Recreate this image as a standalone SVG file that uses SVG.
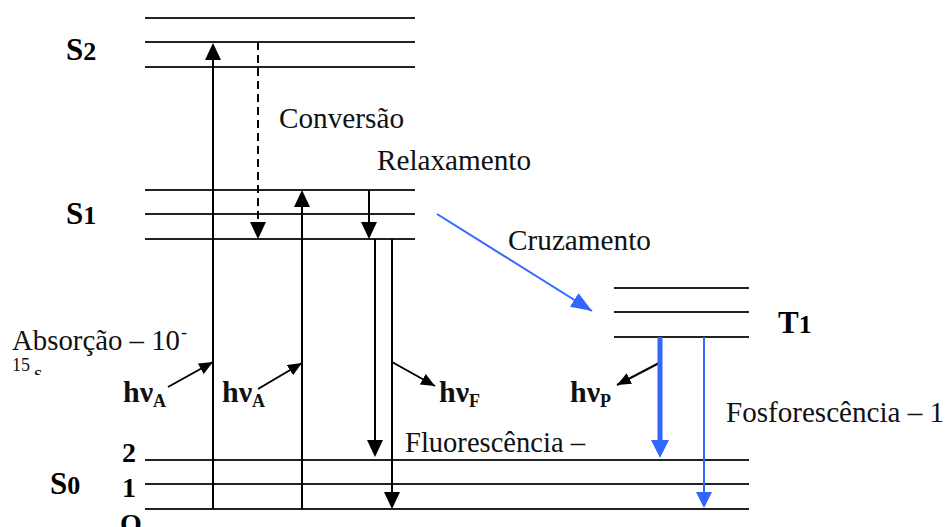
<svg xmlns="http://www.w3.org/2000/svg" width="946" height="527" viewBox="0 0 946 527">
<style>
.lvl{stroke:#222;stroke-width:2;fill:none}
.arr{stroke:#000;stroke-width:2;fill:none}
.lbl{font-family:"Liberation Serif","Times New Roman",serif;font-size:29px;fill:#111}
.st{font-family:"Liberation Serif","Times New Roman",serif;font-weight:bold;font-size:31px;fill:#000}
.num{font-family:"Liberation Serif","Times New Roman",serif;font-weight:bold;font-size:28px;fill:#000}
.hv{font-family:"Liberation Serif","Times New Roman",serif;font-weight:bold;font-size:30px;fill:#111}
.sub{font-size:18px}
.small{font-family:"Liberation Serif","Times New Roman",serif;font-size:18px;fill:#111}
</style>
<defs>
<marker id="av" markerUnits="userSpaceOnUse" markerWidth="17" markerHeight="16" refX="0" refY="8" orient="auto" viewBox="0 0 17 16"><path d="M0,0 L17,8 L0,16 Z" fill="#000"/></marker>
<marker id="ad" markerUnits="userSpaceOnUse" markerWidth="14" markerHeight="12" refX="14" refY="6" orient="auto" viewBox="0 0 14 12"><path d="M0,0 L14,6 L0,12 Z" fill="#000"/></marker>
<marker id="abk" markerUnits="userSpaceOnUse" markerWidth="18" markerHeight="18" refX="0" refY="9" orient="auto" viewBox="0 0 18 18"><path d="M0,0 L18,9 L0,18 Z" fill="#3366ff"/></marker>
<marker id="abt" markerUnits="userSpaceOnUse" markerWidth="16" markerHeight="16" refX="0" refY="8" orient="auto" viewBox="0 0 16 16"><path d="M0,0 L16,8 L0,16 Z" fill="#3366ff"/></marker>
<marker id="abc" markerUnits="userSpaceOnUse" markerWidth="21" markerHeight="16" refX="21" refY="8" orient="auto" viewBox="0 0 21 16"><path d="M0,0 L21,8 L0,16 Z" fill="#3366ff"/></marker>
<clipPath id="clipS"><rect x="30" y="362" width="20" height="13"/></clipPath>
</defs>
<rect width="946" height="527" fill="#fff"/>

<g id="S2">
<line class="lvl" x1="145" y1="18" x2="415" y2="18"/>
<line class="lvl" x1="145" y1="42" x2="415" y2="42"/>
<line class="lvl" x1="145" y1="67" x2="415" y2="67"/>
<text class="st" x="66" y="60">S<tspan style="font-size:26px">2</tspan></text>
</g>

<g id="S1">
<line class="lvl" x1="145" y1="190" x2="415" y2="190"/>
<line class="lvl" x1="145" y1="214" x2="415" y2="214"/>
<line class="lvl" x1="145" y1="239" x2="415" y2="239"/>
<text class="st" x="66" y="224">S<tspan style="font-size:26px">1</tspan></text>
</g>

<g id="T1">
<line class="lvl" x1="614" y1="288" x2="749" y2="288"/>
<line class="lvl" x1="614" y1="312" x2="749" y2="312"/>
<line class="lvl" x1="614" y1="337" x2="749" y2="337"/>
<text class="st" x="778" y="333">T<tspan style="font-size:26px">1</tspan></text>
</g>

<g id="S0">
<line class="lvl" x1="145" y1="460" x2="749" y2="460"/>
<line class="lvl" x1="145" y1="484" x2="749" y2="484"/>
<line class="lvl" x1="145" y1="509" x2="749" y2="509"/>
<text class="st" x="50" y="494">S<tspan style="font-size:26px">0</tspan></text>
<text class="num" x="122" y="462">2</text>
<text class="num" x="122" y="497">1</text>
<text class="num" x="120" y="533">O</text>
</g>

<g id="connectors">
<line class="arr" x1="213" y1="509" x2="213" y2="60" marker-end="url(#av)"/>
<line class="arr" x1="302" y1="509" x2="302" y2="207" marker-end="url(#av)"/>
<line class="arr" x1="258" y1="42" x2="258" y2="222" stroke-dasharray="8,5" marker-end="url(#av)"/>
<line class="arr" x1="369" y1="190" x2="369" y2="222" marker-end="url(#av)"/>
<line class="arr" x1="375" y1="239" x2="375" y2="440" marker-end="url(#av)"/>
<line class="arr" x1="392" y1="239" x2="392" y2="492" marker-end="url(#av)"/>
<line class="arr" x1="168" y1="387" x2="213" y2="362" marker-end="url(#ad)"/>
<line class="arr" x1="258" y1="389" x2="302" y2="363" marker-end="url(#ad)"/>
<line class="arr" x1="392" y1="362" x2="435" y2="386" marker-end="url(#ad)"/>
<line class="arr" x1="661" y1="362" x2="617" y2="385" marker-end="url(#ad)"/>
<line x1="660" y1="337" x2="660" y2="440" stroke="#3366ff" stroke-width="5" marker-end="url(#abk)"/>
<line x1="704" y1="337" x2="704" y2="492" stroke="#3366ff" stroke-width="2" marker-end="url(#abt)"/>
<line x1="437" y1="214" x2="592" y2="311" stroke="#3366ff" stroke-width="2" marker-end="url(#abc)"/>
</g>

<g id="labels">
<text class="lbl" x="279" y="128" textLength="125" lengthAdjust="spacingAndGlyphs">Conversão</text>
<text class="lbl" x="377" y="170" textLength="154" lengthAdjust="spacingAndGlyphs">Relaxamento</text>
<text class="lbl" x="508" y="250" textLength="143" lengthAdjust="spacingAndGlyphs">Cruzamento</text>
<text class="lbl" x="405" y="452" textLength="180" lengthAdjust="spacingAndGlyphs">Fluorescência –</text>
<text class="lbl" x="726" y="422" textLength="218" lengthAdjust="spacingAndGlyphs">Fosforescência – 1</text>
<text class="lbl" x="12" y="350" textLength="168" lengthAdjust="spacingAndGlyphs">Absorção – 10</text>
<text class="small" x="181" y="338">-</text>
<text class="small" x="12" y="371">15</text>
<text class="small" x="34" y="380" style="font-size:22px" clip-path="url(#clipS)">s</text>
<text class="hv" x="123" y="402">hν<tspan class="sub" dy="5">A</tspan></text>
<text class="hv" x="222" y="402">hν<tspan class="sub" dy="5">A</tspan></text>
<text class="hv" x="439" y="402">hν<tspan class="sub" dy="5">F</tspan></text>
<text class="hv" x="570" y="402">hν<tspan class="sub" dy="5">P</tspan></text>
</g>
</svg>
